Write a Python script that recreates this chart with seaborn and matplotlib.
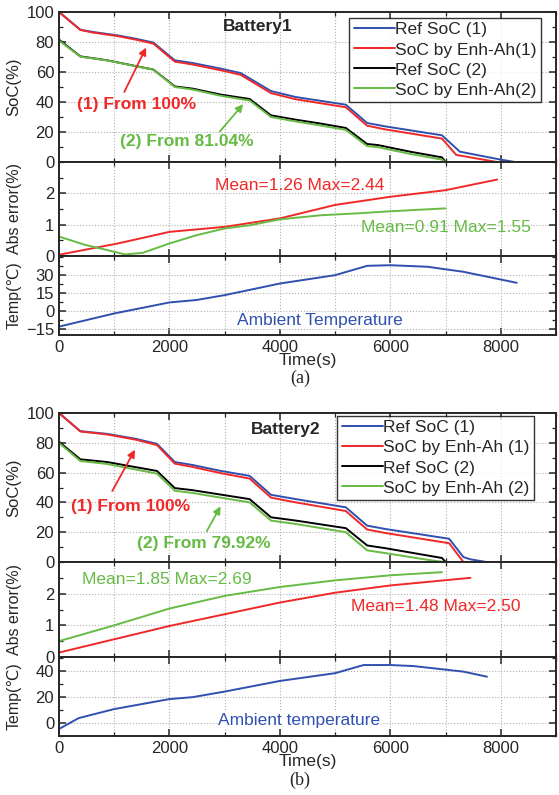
import matplotlib
matplotlib.use("Agg")
import matplotlib.pyplot as plt
import seaborn as sns
from matplotlib.ticker import MultipleLocator, FixedLocator

# --- data ---
# Battery1 (a)
a_ref1_t = [0, 387, 613, 1065, 1387, 1710, 2097, 2420, 2935, 3290, 3839, 4290, 5194, 5580, 5900, 6935, 7258, 7968, 8258]
a_ref1_v = [100, 88.2, 86.7, 84.4, 82.2, 79.6, 67.8, 66.0, 62.2, 59.3, 47.3, 43.3, 38.2, 26.0, 23.8, 17.8, 6.9, 1.8, 0]
a_enh1_t = [0, 387, 613, 1065, 1387, 1710, 2097, 2420, 2935, 3290, 3839, 4290, 5194, 5580, 5900, 6935, 7194, 7935]
a_enh1_v = [100, 88.0, 86.3, 83.9, 81.6, 78.9, 66.9, 65.0, 61.1, 58.1, 45.9, 41.8, 36.5, 24.2, 21.8, 15.6, 4.7, 0]
a_ref2_t = [0, 387, 871, 1710, 2097, 2420, 2935, 3452, 3839, 4290, 4742, 5194, 5580, 5774, 6355, 6935, 7000]
a_ref2_v = [81.6, 70.4, 67.8, 61.6, 50.4, 48.9, 44.9, 42.0, 31.1, 28.2, 25.6, 22.7, 12.0, 11.3, 6.9, 3.1, 0]
a_enh2_t = [0, 387, 871, 1710, 2097, 2420, 2935, 3452, 3839, 4290, 4742, 5194, 5580, 5774, 6355, 6935, 6990]
a_enh2_v = [81.0, 70.2, 67.7, 61.5, 50.0, 48.3, 44.1, 41.0, 30.0, 27.0, 24.3, 21.4, 10.6, 9.9, 5.4, 1.6, 0]
a_err1_t = [0, 1065, 2000, 3000, 4000, 5000, 6000, 7000, 7935]
a_err1_v = [0.04, 0.40, 0.77, 0.93, 1.20, 1.63, 1.89, 2.10, 2.44]
a_err2_t = [0, 484, 871, 1194, 1516, 2000, 2484, 3000, 3452, 4000, 4742, 5387, 6032, 7000]
a_err2_v = [0.62, 0.35, 0.19, 0.05, 0.10, 0.40, 0.66, 0.88, 0.98, 1.17, 1.30, 1.36, 1.43, 1.52]
a_temp_t = [0, 1000, 2000, 2484, 3000, 4000, 5000, 5581, 6000, 6677, 7323, 8290]
a_temp_v = [-13, -2, 7.2, 9.2, 13.3, 23, 30, 37.8, 38.3, 37, 32.8, 23.6]

# Battery2 (b)
b_ref1_t = [0, 387, 871, 1387, 1774, 2097, 2420, 2935, 3452, 3839, 4290, 5194, 5580, 5903, 7065, 7323, 7450, 7742]
b_ref1_v = [100, 87.8, 86.0, 82.7, 79.3, 67.1, 65.1, 61.1, 57.8, 45.1, 42.2, 36.7, 24.4, 22.2, 15.6, 3.3, 1.8, 0]
b_enh1_t = [0, 387, 871, 1387, 1774, 2097, 2420, 2935, 3452, 3839, 4290, 5194, 5580, 5903, 7065, 7323]
b_enh1_v = [100, 87.6, 85.6, 82.1, 78.5, 66.0, 63.8, 59.6, 56.0, 43.2, 40.0, 34.2, 21.8, 19.5, 12.6, 0]
b_ref2_t = [0, 387, 871, 1774, 2097, 2420, 3452, 3839, 4290, 5194, 5580, 5903, 6935, 7000]
b_ref2_v = [80.7, 68.9, 67.1, 61.1, 49.6, 48.2, 42.2, 30.0, 27.8, 22.7, 11.1, 9.3, 2.7, 0]
b_enh2_t = [0, 387, 871, 1774, 2097, 2420, 3452, 3839, 4290, 5194, 5580, 5903, 6740, 6980]
b_enh2_v = [79.9, 67.8, 65.8, 59.3, 47.8, 46.3, 40.0, 27.8, 25.5, 20.0, 7.8, 6.0, 1.1, 0]
b_err1_t = [0, 1000, 2000, 3000, 4000, 5000, 6000, 7452]
b_err1_v = [0.14, 0.56, 0.98, 1.35, 1.72, 2.03, 2.26, 2.50]
b_err2_t = [0, 1000, 2000, 3000, 4000, 5000, 6000, 6935]
b_err2_v = [0.50, 1.00, 1.53, 1.93, 2.21, 2.42, 2.58, 2.68]
b_temp_t = [0, 355, 1000, 2000, 2420, 3000, 4000, 5000, 5516, 6000, 6420, 7323, 7750]
b_temp_v = [-4.6, 3.8, 10.8, 18.5, 20, 24.3, 32.5, 38.5, 44.8, 44.8, 44, 39.7, 35.8]

soc_ticks = [0, 20, 40, 60, 80, 100]
err_ticks = [0, 1, 2]
a_temp_ticks = [-15, 0, 15, 30]
b_temp_ticks = [0, 20, 40]

BLUE = "#3050b0"
RED = "#f02828"
GREEN = "#66bb44"
BLACK = "#000000"

sns.set_style("ticks")
plt.rcParams["font.family"] = ["Liberation Sans", "DejaVu Sans"]
plt.rcParams["font.size"] = 12.5

fig = plt.figure(figsize=(5.59, 7.95), dpi=100)
L, W = 59 / 559, 497 / 559


def frac(top, bottom):
    return [L, (795 - bottom) / 795, W, (bottom - top) / 795]


def style(ax, ylim, yticks, ymin, show_x=False):
    ax.set_xlim(0, 9000)
    ax.set_ylim(*ylim)
    ax.xaxis.set_major_locator(MultipleLocator(2000))
    ax.xaxis.set_minor_locator(MultipleLocator(1000))
    ax.yaxis.set_major_locator(FixedLocator(yticks))
    ax.yaxis.set_minor_locator(MultipleLocator(ymin))
    ax.tick_params(which="both", direction="in", top=True, right=True, labelsize=12)
    ax.tick_params(which="major", length=5, width=1.1)
    ax.tick_params(which="minor", length=3, width=0.9)
    ax.grid(True, which="major", axis="y", ls=":", color="#b0b0b0", lw=0.8)
    ax.grid(True, which="both", axis="x", ls=":", color="#b0b0b0", lw=0.8)
    for s in ax.spines.values():
        s.set_linewidth(1.4)
    if not show_x:
        ax.tick_params(labelbottom=False)
    ax.set_xlabel("")
    ax.yaxis.set_label_coords(-0.075, 0.5)


def line(ax, t, v, c, label=None):
    sns.lineplot(x=t, y=v, ax=ax, color=c, lw=1.4, label=label, estimator=None, sort=False)


def panel(top, soc, err, temp, bname, leg_labels, leg_box, txt1, txt2, arr1, arr2,
          err_txt, temp_lim, temp_ticks, temp_minor, temp_txt, fig_lab, lab_y):
    ax1 = fig.add_axes(frac(*top[0]))
    ax2 = fig.add_axes(frac(*top[1]))
    ax3 = fig.add_axes(frac(*top[2]))

    colors = [BLUE, RED, BLACK, GREEN]
    for (t, v), c, lab in zip(soc, colors, leg_labels):
        line(ax1, t, v, c, lab)
    style(ax1, (0, 100), soc_ticks, 10)
    ax1.set_ylabel("SoC(%)", fontsize=12)
    ax1.legend(loc="upper left", bbox_to_anchor=leg_box, frameon=True, fancybox=False,
               edgecolor="black", fontsize=12.5, handlelength=2.4, handletextpad=0.0,
               labelspacing=0.28, borderpad=0.25, borderaxespad=0)
    ax1.get_legend().get_frame().set_linewidth(1.0)
    ax1.text(bname[1], bname[2], bname[0], ha="center", va="center", fontweight="bold", fontsize=12.5)
    ax1.text(txt1[1], txt1[2], txt1[0], ha="center", va="center", color=RED, fontweight="bold", fontsize=12.5)
    ax1.text(txt2[1], txt2[2], txt2[0], ha="center", va="center", color=GREEN, fontweight="bold", fontsize=12.5)
    for (x0, y0, x1, y1), c in zip([arr1, arr2], [RED, GREEN]):
        ax1.annotate("", xy=(x1, y1), xytext=(x0, y0),
                     arrowprops=dict(arrowstyle="-|>", color=c, lw=1.3, mutation_scale=11))

    line(ax2, err[0][0], err[0][1], RED)
    line(ax2, err[1][0], err[1][1], GREEN)
    style(ax2, (0, 3), err_ticks, 0.5)
    ax2.set_ylabel("Abs error(%)", fontsize=11.5)
    for (s, x, y), c in zip(err_txt, [RED, GREEN]):
        ax2.text(x, y, s, ha="center", va="center", color=c, fontsize=12.5)

    line(ax3, temp[0], temp[1], BLUE)
    style(ax3, temp_lim, temp_ticks, temp_minor, show_x=True)
    ax3.set_ylabel("Temp(\u2103)", fontsize=11.5)
    ax3.set_xlabel("Time(s)", labelpad=-1)
    ax3.text(temp_txt[1], temp_txt[2], temp_txt[0], ha="center", va="center", color=BLUE,
             fontsize=12.5, bbox=dict(facecolor="white", edgecolor="none", pad=0.5))
    fig.text(0.537, (795 - lab_y) / 795, fig_lab, ha="center", va="center",
             fontsize=13, family="Liberation Serif")


panel(top=[(12, 162), (162, 256), (256, 335)],
      soc=[(a_ref1_t, a_ref1_v), (a_enh1_t, a_enh1_v), (a_ref2_t, a_ref2_v), (a_enh2_t, a_enh2_v)],
      err=[(a_err1_t, a_err1_v), (a_err2_t, a_err2_v)],
      temp=(a_temp_t, a_temp_v),
      bname=("Battery1", 3600, 90),
      leg_labels=["Ref SoC (1)", "SoC by Enh-Ah(1)", "Ref SoC (2)", "SoC by Enh-Ah(2)"],
      leg_box=(0.584, 0.96),
      txt1=("(1) From 100%", 1400, 38), txt2=("(2) From 81.04%", 2320, 13.5),
      arr1=(1160, 45, 1600, 78), arr2=(2880, 19, 3370, 40),
      err_txt=[("Mean=1.26 Max=2.44", 4350, 2.25), ("Mean=0.91 Max=1.55", 7010, 0.92)],
      temp_lim=(-20, 46), temp_ticks=a_temp_ticks, temp_minor=7.5,
      temp_txt=("Ambient Temperature", 4730, -8),
      fig_lab="(a)", lab_y=378)

panel(top=[(413, 562), (562, 657), (657, 736)],
      soc=[(b_ref1_t, b_ref1_v), (b_enh1_t, b_enh1_v), (b_ref2_t, b_ref2_v), (b_enh2_t, b_enh2_v)],
      err=[(b_err1_t, b_err1_v), (b_err2_t, b_err2_v)],
      temp=(b_temp_t, b_temp_v),
      bname=("Battery2", 4110, 89),
      leg_labels=["Ref SoC (1)", "SoC by Enh-Ah (1)", "Ref SoC (2)", "SoC by Enh-Ah (2)"],
      leg_box=(0.56, 0.98),
      txt1=("(1) From 100%", 1290, 37), txt2=("(2) From 79.92%", 2630, 12.7),
      arr1=(940, 46, 1400, 77), arr2=(2650, 19, 2950, 39),
      err_txt=[("Mean=1.48 Max=2.50", 6830, 1.6), ("Mean=1.85 Max=2.69", 1950, 2.45)],
      temp_lim=(-10, 51), temp_ticks=b_temp_ticks, temp_minor=10,
      temp_txt=("Ambient temperature", 4350, 2),
      fig_lab="(b)", lab_y=780)

fig.savefig("out.png", dpi=100)
